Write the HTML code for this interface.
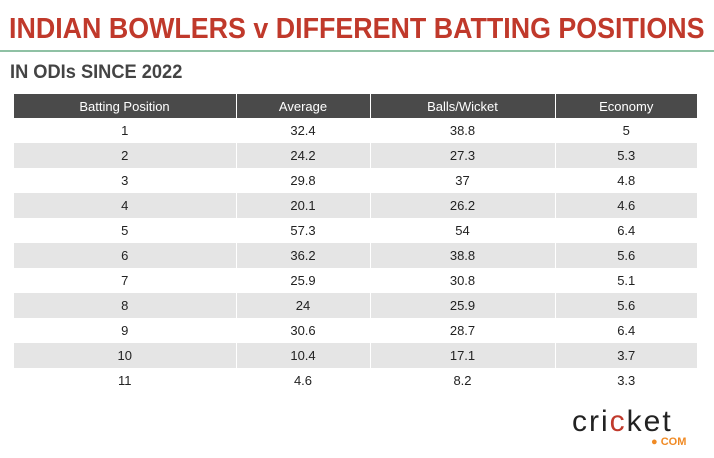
<!DOCTYPE html>
<html><head><meta charset="utf-8"><style>
body{margin:0;width:714px;height:458px;background:#fff;font-family:"Liberation Sans",sans-serif;position:relative;overflow:hidden}
.t{position:absolute;left:9px;top:13px;font-size:29px;font-weight:bold;color:#c0392b;white-space:nowrap;transform-origin:0 0;transform:scaleX(0.925)}
.line{position:absolute;left:0;top:50px;width:714px;height:2px;background:#8fc1a4}
.s{position:absolute;left:10px;top:62px;font-size:19px;font-weight:bold;color:#444;transform-origin:0 0;transform:scaleX(0.96);white-space:nowrap}
table{position:absolute;left:13px;top:94px;width:684px;border-collapse:collapse;font-size:13px;color:#222}
th{background:#4a4a4a;color:#fff;font-weight:normal;height:24px;border-left:1px solid #fff;padding:0}
th:first-child{border-left:none}
td{height:25px;padding:0;text-align:center;border-left:1px solid #fff}
tbody tr:nth-child(even) td{background:#e5e5e5}
.logo{position:absolute;left:572px;top:405px;font-size:30px;color:#222;letter-spacing:2px}
.com{position:absolute;left:651px;top:436px;font-size:11px;font-weight:bold;color:#f08a24}
</style></head><body>
<div class="t">INDIAN BOWLERS v DIFFERENT BATTING POSITIONS</div>
<div class="line"></div>
<div class="s">IN ODIs SINCE 2022</div>
<table>
<thead><tr><th style="width:222px">Batting Position</th><th style="width:133px">Average</th><th style="width:184px">Balls/Wicket</th><th>Economy</th></tr></thead>
<tbody>
<tr><td>1</td><td>32.4</td><td>38.8</td><td>5</td></tr>
<tr><td>2</td><td>24.2</td><td>27.3</td><td>5.3</td></tr>
<tr><td>3</td><td>29.8</td><td>37</td><td>4.8</td></tr>
<tr><td>4</td><td>20.1</td><td>26.2</td><td>4.6</td></tr>
<tr><td>5</td><td>57.3</td><td>54</td><td>6.4</td></tr>
<tr><td>6</td><td>36.2</td><td>38.8</td><td>5.6</td></tr>
<tr><td>7</td><td>25.9</td><td>30.8</td><td>5.1</td></tr>
<tr><td>8</td><td>24</td><td>25.9</td><td>5.6</td></tr>
<tr><td>9</td><td>30.6</td><td>28.7</td><td>6.4</td></tr>
<tr><td>10</td><td>10.4</td><td>17.1</td><td>3.7</td></tr>
<tr><td>11</td><td>4.6</td><td>8.2</td><td>3.3</td></tr>
</tbody></table>
<div class="logo">cri<span style="color:#c0392b">c</span>ket</div>
<div class="com">● COM</div>
</body></html>
